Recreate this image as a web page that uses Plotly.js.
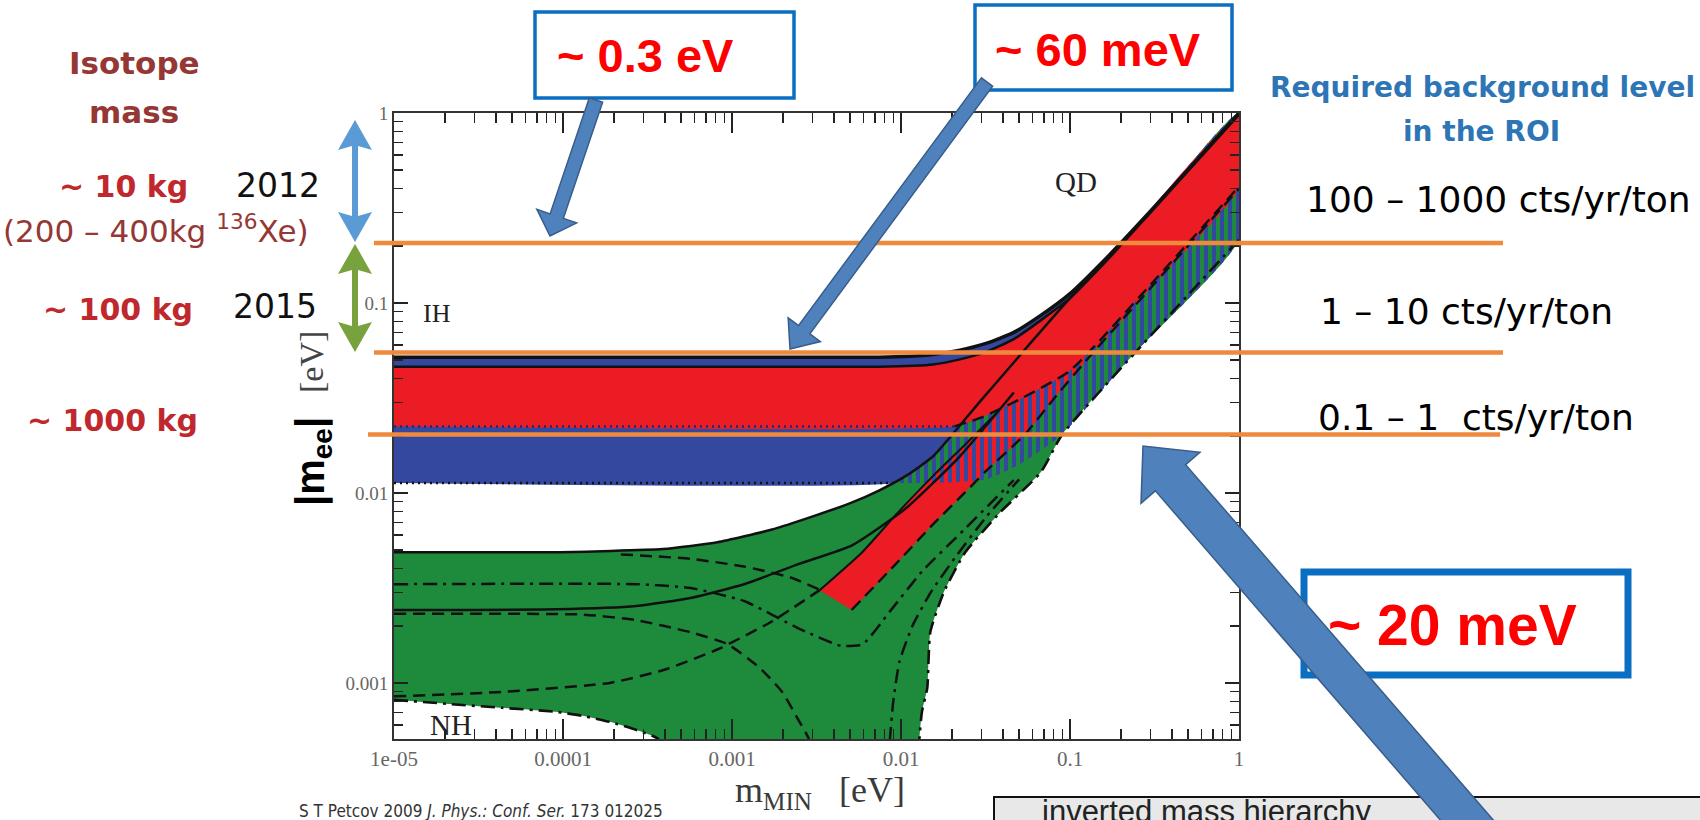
<!DOCTYPE html>
<html>
<head>
<meta charset="utf-8">
<script src="https://cdn.plot.ly/plotly-3.0.1.min.js"></script>
<style>
  html, body { margin: 0; padding: 0; background: #ffffff; }
  #chart { width: 1700px; height: 820px; }
</style>
</head>
<body>
<div id="chart"></div>
<script>
// ---------- axis ticks ----------
const xTickVals = [1e-5, 1e-4, 1e-3, 1e-2, 1e-1, 1];
const xTickText = ['1e-05', '0.0001', '0.001', '0.01', '0.1', '1'];
const yTickVals = [1e-3, 1e-2, 1e-1, 1];
const yTickText = ['0.001', '0.01', '0.1', '1'];

// ---------- |m_ee| vs m_MIN regions (eV) ----------
// normal hierarchy: upper edge, lower-right edge, lower-left edge
const nhUpperM   = [1e-5, 9e-5, 3.9e-4, 8.2e-4, 1.7e-3, 3.1e-3, 5.1e-3, 7.4e-3, 1.07e-2, 1.55e-2, 3.0e-2, 0.1, 0.3, 1];
const nhUpperMee = [4.88e-3, 4.88e-3, 5.07e-3, 5.5e-3, 6.4e-3, 7.6e-3, 8.9e-3, 1.03e-2, 1.23e-2, 1.56e-2, 3.1e-2, 0.106, 0.302, 1.0];
const nhLowRM    = [1, 0.243, 0.09, 0.0671, 0.0387, 0.024, 0.0179, 0.0149, 0.0143, 0.0133, 0.01285, 0.0125];
const nhLowRMee  = [0.215, 0.0548, 0.0203, 0.01285, 7.92e-3, 4.88e-3, 3.0e-3, 1.85e-3, 9.4e-4, 7.05e-4, 5.07e-4, 2.0e-4];
const nhLowLM    = [1e-5, 2.08e-5, 4.35e-5, 9.06e-5, 1.31e-4, 1.89e-4, 2.72e-4, 3.66e-4, 4.5e-4];
const nhLowLMee  = [8.15e-4, 7.76e-4, 7.4e-4, 7.05e-4, 6.71e-4, 6.24e-4, 5.66e-4, 5.07e-4, 3.5e-4];

// normal hierarchy, CP-violating strip
const nhRedUpM   = [3.3e-3, 5.9e-3, 9.6e-3, 1.55e-2, 2.4e-2, 3.7e-2, 0.1, 1];
const nhRedUpMee = [3.08e-3, 4.88e-3, 7.9e-3, 1.23e-2, 1.8e-2, 2.65e-2, 9.5e-2, 0.97];
const nhRedLoM   = [5.1e-3, 9.3e-3, 1.55e-2, 2.4e-2, 3.2e-2, 5.4e-2, 8.3e-2, 0.13, 0.3, 1];
const nhRedLoMee = [2.42e-3, 4.22e-3, 6.85e-3, 1.01e-2, 1.31e-2, 2.03e-2, 3.25e-2, 5.2e-2, 0.12, 0.4];

// inverted hierarchy: outer band and CP-violating band
const ihTopM     = [1e-5, 7.4e-3, 1.55e-2, 2.23e-2, 3.22e-2, 4.65e-2, 6.71e-2, 0.1, 0.17, 0.3, 0.55, 1];
const ihTopMee   = [5.18e-2, 5.18e-2, 5.36e-2, 5.65e-2, 6.15e-2, 7.0e-2, 8.6e-2, 0.112, 0.178, 0.305, 0.552, 1.0];
const ihLowM     = [1e-5, 9e-3, 2e-2, 3.2e-2, 5e-2, 9e-2, 0.243, 1];
const ihLowMee   = [1.13e-2, 1.13e-2, 1.14e-2, 1.18e-2, 1.41e-2, 2.03e-2, 5.48e-2, 0.215];
const ihRedTopM  = [1e-5, 7.4e-3, 1.55e-2, 2.23e-2, 3.22e-2, 4.65e-2, 6.71e-2, 0.1, 0.17, 0.3, 0.55, 1];
const ihRedTopMee= [4.62e-2, 4.62e-2, 4.75e-2, 5.05e-2, 5.55e-2, 6.45e-2, 8.1e-2, 0.106, 0.172, 0.3, 0.545, 0.98];
const ihRedLowM  = [1e-5, 2.07e-2, 3e-2, 5e-2, 0.1, 0.3, 1];
const ihRedLowMee= [2.24e-2, 2.24e-2, 2.5e-2, 3.1e-2, 4.4e-2, 0.125, 0.41];

// contour lines inside the NH region
const curveBM    = [1e-5, 2.72e-4, 5.68e-4, 1.18e-3, 2.47e-3, 4.4e-3, 5.94e-3, 8.6e-3, 1.334e-2, 2.4e-2, 4.65e-2];
const curveBMee  = [3.31e-3, 3.31e-3, 3.16e-3, 2.7e-3, 1.94e-3, 1.57e-3, 1.6e-3, 2.38e-3, 3.87e-3, 6.5e-3, 1.17e-2];
const curveCM    = [1e-5, 9.06e-5, 2.72e-4, 5.68e-4, 1.18e-3, 2.47e-3, 5.13e-3, 1.07e-2, 2.23e-2, 4.65e-2];
const curveCMee  = [2.42e-3, 2.44e-3, 2.54e-3, 2.8e-3, 3.31e-3, 4.22e-3, 5.3e-3, 8.3e-3, 1.56e-2, 3.38e-2];
const curveDM    = [1e-5, 1.31e-4, 2.72e-4, 5.68e-4, 9.43e-4, 1.46e-3, 1.98e-3, 2.47e-3, 2.85e-3, 3.07e-3];
const curveDMee  = [2.31e-3, 2.29e-3, 2.14e-3, 1.85e-3, 1.6e-3, 1.2e-3, 8.97e-4, 6.4e-4, 5.07e-4, 3.4e-4];
const curveEM    = [1e-5, 4.35e-5, 1.89e-4, 3.93e-4, 8.18e-4, 1.71e-3, 3.3e-3];
const curveEMee  = [8.5e-4, 8.97e-4, 1.0e-3, 1.17e-3, 1.5e-3, 2.1e-3, 3.08e-3];
const curveKM    = [2.2e-4, 5.7e-4, 1.18e-3, 2.2e-3, 3.3e-3];
const curveKMee  = [4.75e-3, 4.5e-3, 4.1e-3, 3.6e-3, 3.1e-3];
const curveHM    = [8.28e-3, 8.6e-3, 9.0e-3, 9.8e-3, 1.17e-2, 1.5e-2, 2.1e-2, 3.2e-2, 5e-2];
const curveHMee  = [3.5e-4, 5.07e-4, 8.0e-4, 1.3e-3, 2.0e-3, 3.0e-3, 4.6e-3, 7.5e-3, 1.18e-2];

// required background levels in the ROI (eV)
const roiLevels = [0.207, 0.0548, 0.0203];
const roiLabels = ['100 – 1000 cts/yr/ton', '1 – 10 cts/yr/ton', '0.1 – 1\u00a0 cts/yr/ton'];
const massLabels = ['~ 10 kg', '~ 100 kg', '~ 1000 kg'];
const yearLabels = ['2012', '2015'];
const calloutLabels = ['~ 0.3 eV', '~ 60 meV', '~ 20 meV'];

// ---------- page geometry (pixels) ----------
const W = 1700, H = 820, L = 394, R = 1239, T = 113, B = 739;
const px = x => (x - L) / (R - L);
const py = y => (B - y) / (B - T);

// ---------- helpers ----------
const pairs = (ms, ys) => ms.map((m, i) => [m, ys[i]]);
const poly = list => ({ x: list.map(p => p[0]), y: list.map(p => p[1]) });
const cross = ihLowM[1];  // where the NH upper edge meets the IH lower edge

const GREEN = '#1d8a3c', BLUE = '#33489e', RED = '#ec1c24';

function area(pts, color, extra) {
  return Object.assign({
    type: 'scatter', mode: 'lines', x: pts.x, y: pts.y, fill: 'toself',
    fillcolor: color, line: { width: 0, shape: 'spline', smoothing: 0.5 }, hoverinfo: 'skip'
  }, extra || {});
}
function curve(xs, ys, dash, width, color) {
  return {
    type: 'scatter', mode: 'lines', x: xs, y: ys, hoverinfo: 'skip',
    line: { color: color || '#111', width: width || 2.5, dash: dash || 'solid', shape: 'spline', smoothing: 0.5 }
  };
}

const DASH = '12px,7px', DASHDOT = '14px,6px,3px,6px', DOT = '2px,4px';

// NH region
const nhPoly = poly(pairs(nhUpperM, nhUpperMee)
  .concat(pairs(nhLowRM, nhLowRMee))
  .concat(pairs(nhLowLM, nhLowLMee).reverse()));
// NH CP-violating strip
const nhRedPoly = poly(pairs(nhRedUpM, nhRedUpMee).concat(pairs(nhRedLoM, nhRedLoMee).reverse()));
// IH band outside the NH region
const ihBluePoly = poly(pairs(ihTopM, ihTopMee)
  .concat(pairs(nhUpperM, nhUpperMee).filter(p => p[0] > cross).reverse())
  .concat(pairs(ihLowM, ihLowMee).filter(p => p[0] <= cross).reverse()));
// overlap of IH and NH
const overlapPoly = poly(pairs(ihLowM, ihLowMee).filter(p => p[0] >= cross)
  .concat(pairs(nhUpperM, nhUpperMee).filter(p => p[0] > cross).reverse()));
// IH CP-violating band
const ihRedPoly = poly(pairs(ihRedTopM, ihRedTopMee).concat(pairs(ihRedLowM, ihRedLowMee).reverse()));

const traces = [
  area(nhPoly, GREEN),
  area(nhRedPoly, RED),
  area(ihBluePoly, BLUE),
  area(overlapPoly, 'rgba(0,0,0,0)', {
    fillpattern: { shape: '|', fgcolor: BLUE, bgcolor: 'rgba(0,0,0,0)', size: 8, solidity: 0.5, fillmode: 'replace' }
  }),
  area(ihRedPoly, RED),

  curve(ihTopM, ihTopMee, 'solid', 3.5),
  curve(ihRedTopM, ihRedTopMee, 'solid', 2.5),
  curve(ihRedLowM.slice(0, 2), ihRedLowMee.slice(0, 2), DOT, 2.5, '#1a2a7a'),
  curve(ihRedLowM.slice(1), ihRedLowMee.slice(1), DASH, 2.4),
  curve(ihLowM.slice(0, 2), ihLowMee.slice(0, 2), DOT, 2.5, '#111'),
  curve(nhUpperM, nhUpperMee, 'solid', 2.5),
  curve(nhLowRM, nhLowRMee, DASHDOT, 2.6),
  curve(nhLowLM, nhLowLMee, DASHDOT, 2.6),
  curve(nhRedUpM.slice(0, 6), nhRedUpMee.slice(0, 6), 'solid', 2),
  curve(nhRedLoM, nhRedLoMee, DASH, 2.4),
  curve(curveBM, curveBMee, DASHDOT, 2.5),
  curve(curveCM, curveCMee, 'solid', 2.5),
  curve(curveDM, curveDMee, DASH, 2.5),
  curve(curveEM, curveEMee, DASH, 2.5),
  curve(curveKM, curveKMee, DASH, 2.5),
  curve(curveHM, curveHMee, DASHDOT, 2.5)
];

// ---------- decorations ----------
function blockArrow(tx, ty, hx, hy, shaftW, headW, headL) {
  const dx = hx - tx, dy = hy - ty, len = Math.hypot(dx, dy);
  const ux = dx / len, uy = dy / len, nx = -uy, ny = ux;
  const bx = hx - ux * headL, by = hy - uy * headL;
  const pts = [
    [tx + nx * shaftW / 2, ty + ny * shaftW / 2],
    [bx + nx * shaftW / 2, by + ny * shaftW / 2],
    [bx + nx * headW / 2, by + ny * headW / 2],
    [hx, hy],
    [bx - nx * headW / 2, by - ny * headW / 2],
    [bx - nx * shaftW / 2, by - ny * shaftW / 2],
    [tx - nx * shaftW / 2, ty - ny * shaftW / 2]
  ];
  return 'M' + pts.map(p => px(p[0]).toFixed(5) + ',' + py(p[1]).toFixed(5)).join(' L') + ' Z';
}
function doubleArrow(x, y1, y2, shaftW, headW, headL) {
  const pts = [
    [x, y1], [x + headW / 2, y1 + headL], [x + shaftW / 2, y1 + headL - 4],
    [x + shaftW / 2, y2 - headL + 4], [x + headW / 2, y2 - headL], [x, y2],
    [x - headW / 2, y2 - headL], [x - shaftW / 2, y2 - headL + 4],
    [x - shaftW / 2, y1 + headL - 4], [x - headW / 2, y1 + headL]
  ];
  return 'M' + pts.map(p => px(p[0]).toFixed(5) + ',' + py(p[1]).toFixed(5)).join(' L') + ' Z';
}
function rect(x0, y0, x1, y1, color, width, fill) {
  return { type: 'rect', xref: 'paper', yref: 'paper', x0: px(x0), x1: px(x1), y0: py(y0), y1: py(y1),
    line: { color: color, width: width }, fillcolor: fill || 'rgba(0,0,0,0)' };
}

const ARROW_FILL = '#4f81bd', ARROW_EDGE = '#385d8a';
const shapes = [
  // ROI background levels
  ...roiLevels.map((v, i) => ({
    type: 'line', xref: 'paper', yref: 'y', x0: px(i === 2 ? 368 : 374), x1: px(i === 2 ? 1500 : 1503),
    y0: v, y1: v, line: { color: '#ee8a3e', width: 4.5 }
  })),
  // timeline arrows on the left
  { type: 'path', xref: 'paper', yref: 'paper', path: doubleArrow(355, 120, 242, 6, 34, 30),
    fillcolor: '#5b9bd5', line: { width: 0 } },
  { type: 'path', xref: 'paper', yref: 'paper', path: doubleArrow(355, 244, 352, 6, 34, 30),
    fillcolor: '#77a23e', line: { width: 0 } },
  // call-out boxes
  rect(535, 12, 794, 98, '#0a6fc2', 3.5, '#ffffff'),
  rect(975, 5, 1232, 90, '#0a6fc2', 3.5, '#ffffff'),
  rect(1304, 572, 1628, 675, '#0a6fc2', 7),
  // reference box at the bottom
  rect(994, 797, 1710, 840, '#111111', 2, '#e8e8e8'),
  // call-out arrows
  { type: 'path', xref: 'paper', yref: 'paper', path: blockArrow(596, 100, 550, 236, 14, 42, 21),
    fillcolor: ARROW_FILL, line: { color: ARROW_EDGE, width: 1.5 } },
  { type: 'path', xref: 'paper', yref: 'paper', path: blockArrow(987, 82, 790, 349, 14, 40, 24),
    fillcolor: ARROW_FILL, line: { color: ARROW_EDGE, width: 1.5 } },
  { type: 'path', xref: 'paper', yref: 'paper', path: blockArrow(1530, 893, 1143, 446, 40, 78, 42),
    fillcolor: ARROW_FILL, line: { color: ARROW_EDGE, width: 1.5 } }
];

function note(text, x, y, font, extra) {
  return Object.assign({ xref: 'paper', yref: 'paper', x: px(x), y: py(y), text: text, showarrow: false,
    xanchor: 'center', yanchor: 'middle', font: font }, extra || {});
}
const SANS = 'DejaVu Sans';
const DARKRED = '#953735', CRIMSON = '#c0282d', ROIBLUE = '#2e75b6';
const CALLOUT = { family: 'Liberation Sans', size: 47, color: '#ff0000', weight: 'bold' };

const annotations = [
  // left column
  note('Isotope', 134, 63, { family: SANS, size: 31, color: DARKRED, weight: 'bold' }),
  note('mass', 134, 112, { family: SANS, size: 31, color: DARKRED, weight: 'bold' }),
  note(massLabels[0], 123, 186, { family: SANS, size: 30, color: CRIMSON, weight: 'bold' }),
  note('(200 – 400kg <sup>136</sup>Xe)', 156, 229, { family: SANS, size: 31, color: DARKRED }),
  note(massLabels[1], 118, 309, { family: SANS, size: 30, color: CRIMSON, weight: 'bold' }),
  note(massLabels[2], 112, 420, { family: SANS, size: 30, color: CRIMSON, weight: 'bold' }),
  note(yearLabels[0], 278, 185, { family: SANS, size: 33, color: '#111' }),
  note(yearLabels[1], 275, 306, { family: SANS, size: 33, color: '#111' }),
  // right column
  note('Required background level', 1482, 88, { family: SANS, size: 28, color: ROIBLUE, weight: 'bold' }),
  note('in the ROI', 1481, 131, { family: SANS, size: 28, color: ROIBLUE, weight: 'bold' }),
  note(roiLabels[0], 1498, 199, { family: SANS, size: 36, color: '#000' }),
  note(roiLabels[1], 1466, 311, { family: SANS, size: 36, color: '#000' }),
  note(roiLabels[2], 1476, 418, { family: SANS, size: 36, color: '#000' }),
  // call-outs
  note(calloutLabels[0], 645, 56, CALLOUT),
  note(calloutLabels[1], 1098, 50, CALLOUT),
  note(calloutLabels[2], 1452, 625, Object.assign({}, CALLOUT, { size: 57 })),
  // axis titles
  note('m<sub>MIN</sub>\u00a0\u00a0\u00a0[eV]', 820, 792, { family: 'Liberation Serif', size: 36, color: '#3a3a3a' }),
  note('[eV]', 311, 362, { family: 'Liberation Serif', size: 34, color: '#444' }, { textangle: -90 }),
  note('|m<sub>ee</sub>|', 313, 462, { family: 'Liberation Sans', size: 40, color: '#000', weight: 'bold' }, { textangle: -90 }),
  // region labels inside the plot
  { xref: 'x', yref: 'y', x: Math.log10(0.108), y: -0.363, text: 'QD', showarrow: false,
    font: { family: 'Liberation Serif', size: 29, color: '#222' } },
  { xref: 'x', yref: 'y', x: -4.746, y: -1.053, text: 'IH', showarrow: false,
    font: { family: 'Liberation Serif', size: 26, color: '#222' } },
  { xref: 'x', yref: 'y', x: -4.663, y: -3.221, text: 'NH', showarrow: false,
    font: { family: 'Liberation Serif', size: 29, color: '#222' } },
  // source and legend box text
  note('S T Petcov 2009 <i>J. Phys.: Conf. Ser.</i> 173 012025', 481, 811,
    { family: 'Liberation Sans Narrow, DejaVu Sans Condensed, Liberation Sans', size: 17, color: '#333' }),
  note('inverted mass hierarchy', 1040, 812, { family: 'Liberation Sans', size: 31, color: '#222' }, { xanchor: 'left' })
];

const minorX = [];
for (let d = -5; d < 0; d++) for (let k = 2; k < 10; k++) minorX.push(k * Math.pow(10, d));
const minorY = [];
for (let d = -4; d < 0; d++) for (let k = 2; k < 10; k++) { const v = k * Math.pow(10, d); if (v > 5.1e-4) minorY.push(v); }

const axisCommon = {
  type: 'log', showgrid: false, zeroline: false, showline: true, linecolor: '#333', linewidth: 2,
  mirror: 'allticks', ticks: 'inside', tickcolor: '#222', tickwidth: 1.5, tickmode: 'array'
};

const layout = {
  width: W, height: H,
  margin: { l: L, r: W - R, t: T, b: H - B, pad: 0 },
  paper_bgcolor: '#ffffff', plot_bgcolor: '#ffffff', showlegend: false,
  xaxis: Object.assign({}, axisCommon, {
    range: [-5, 0], tickvals: xTickVals, ticktext: xTickText, ticklen: 20,
    tickfont: { family: 'Liberation Serif', size: 21, color: '#666' },
    minor: { tickmode: 'array', tickvals: minorX, ticks: 'inside', ticklen: 10, tickwidth: 1.5, tickcolor: '#222', showgrid: false }
  }),
  yaxis: Object.assign({}, axisCommon, {
    range: [-3.295, 0], tickvals: yTickVals, ticktext: yTickText, ticklen: 14,
    tickfont: { family: 'Liberation Serif', size: 19, color: '#666' },
    minor: { tickmode: 'array', tickvals: minorY, ticks: 'inside', ticklen: 9, tickwidth: 1.5, tickcolor: '#222', showgrid: false }
  }),
  shapes: shapes,
  annotations: annotations
};

Plotly.newPlot('chart', traces, layout, { staticPlot: true, displayModeBar: false });
</script>
</body>
</html>
